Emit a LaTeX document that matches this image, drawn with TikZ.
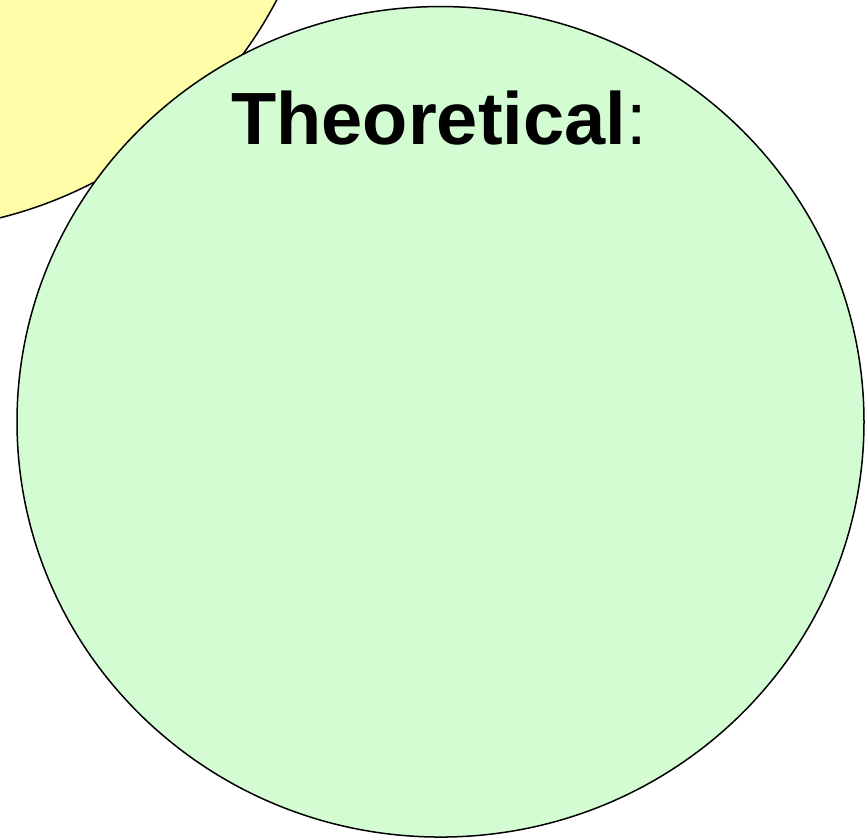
\documentclass[tikz,border=0pt]{standalone}
\usepackage{fontspec}
\setmainfont{Liberation Sans}
\usetikzlibrary{shapes.geometric}
\definecolor{yel}{RGB}{255,253,168}
\definecolor{grn}{RGB}{211,252,211}
\begin{document}
\begin{tikzpicture}[x=1pt,y=1pt,
  circ/.style={draw=black,line width=1.5pt,ellipse,inner sep=0pt}]
\useasboundingbox (0,0) rectangle (865,839);
\clip (0,0) rectangle (865,839);
\node[circ,fill=yel,minimum width=859pt,minimum height=859pt] (yellow) at (-104,1038) {};
\node[circ,fill=grn,minimum width=847pt,minimum height=830.5pt] (green) at (440.5,417.2) {};
\node[anchor=base,inner sep=0pt,font=\fontsize{74}{80}\selectfont] (title) at (439,694) {\textbf{Theoretical}:};
\end{tikzpicture}
\end{document}
